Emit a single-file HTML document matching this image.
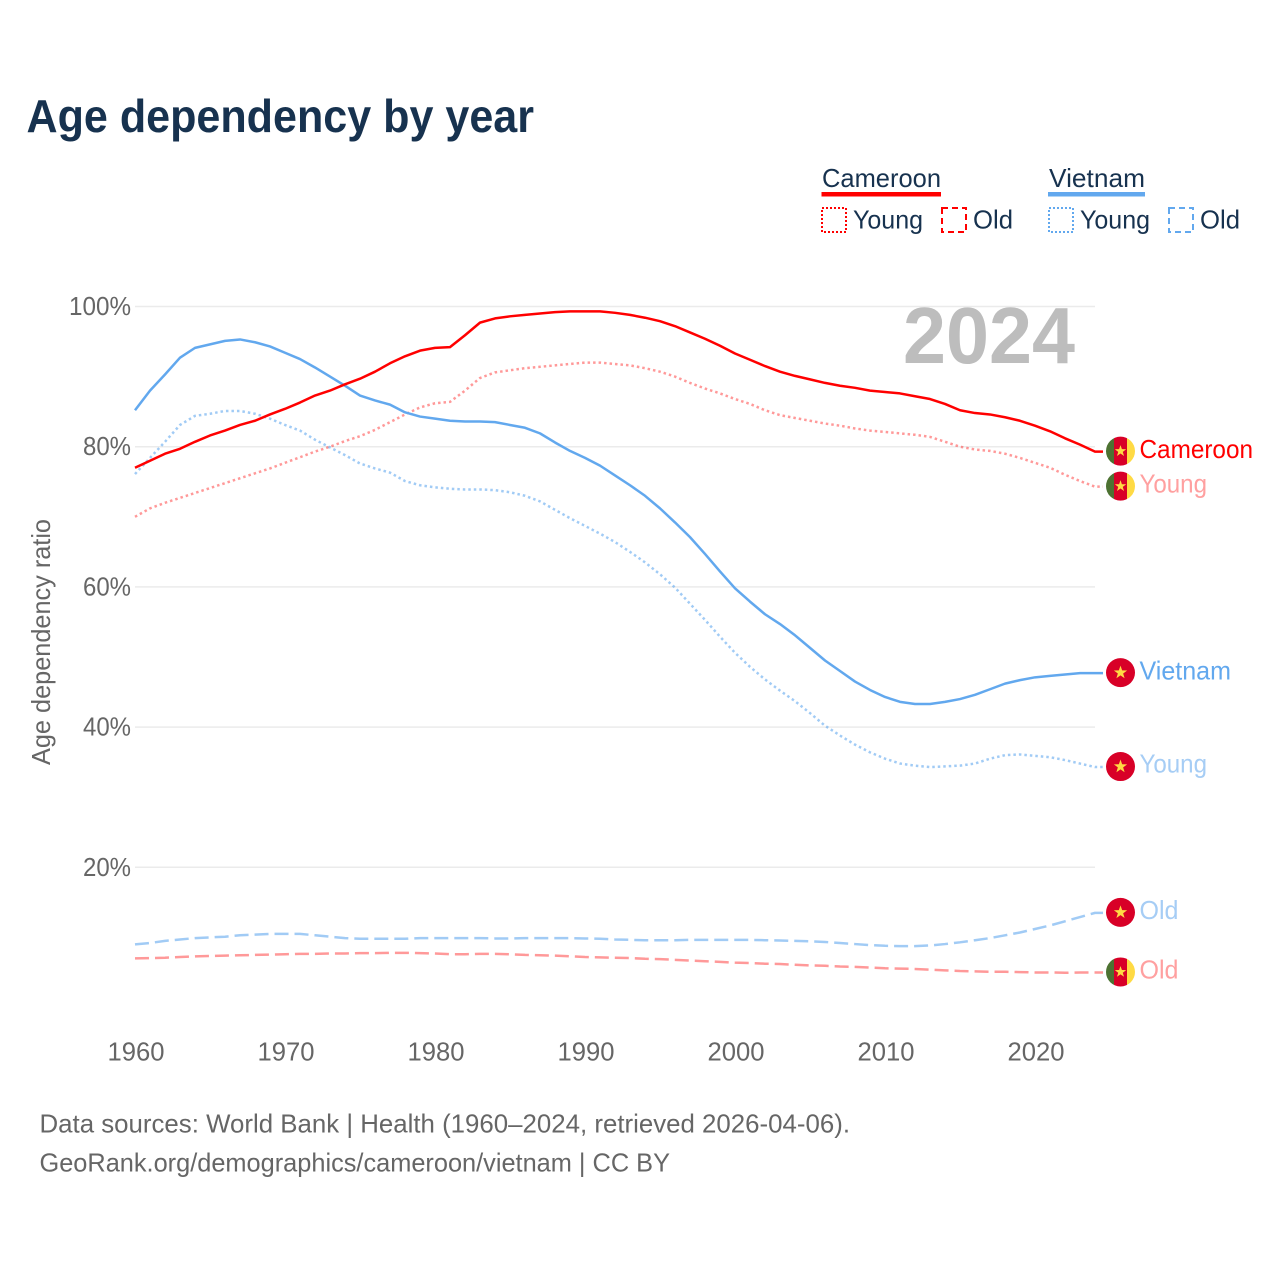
<!DOCTYPE html>
<html lang="en">
<head>
<meta charset="utf-8">
<title>Age dependency by year</title>
<style>
html,body{margin:0;padding:0;background:#fff;}
svg{display:block;font-family:"Liberation Sans",sans-serif;}
</style>
</head>
<body>
<svg id="chart" xmlns="http://www.w3.org/2000/svg" width="1280" height="1280" viewBox="0 0 1280 1280">
  <rect width="1280" height="1280" fill="#fff"/>
  <text x="26.500" y="132" font-size="46" font-weight="700" fill="#17324f" textLength="507.500" lengthAdjust="spacingAndGlyphs">Age dependency by year</text>

  <g font-size="26" fill="#17324f">
    <text x="822" y="187" textLength="119" lengthAdjust="spacingAndGlyphs">Cameroon</text>
    <rect x="821.500" y="192" width="119.500" height="4.500" fill="#ff0000"/>
    <rect x="822" y="208" width="24" height="24" fill="none" stroke="#ff0000" stroke-width="2" stroke-dasharray="2 2"/>
    <text x="853" y="228.500" textLength="70" lengthAdjust="spacingAndGlyphs">Young</text>
    <rect x="942" y="208" width="24" height="24" fill="none" stroke="#ff0000" stroke-width="2" stroke-dasharray="6 4"/>
    <text x="973" y="228.500" textLength="40" lengthAdjust="spacingAndGlyphs">Old</text>
    <text x="1049" y="187" textLength="96" lengthAdjust="spacingAndGlyphs">Vietnam</text>
    <rect x="1048" y="192" width="97" height="4.500" fill="#62a8ee"/>
    <rect x="1049" y="208" width="24" height="24" fill="none" stroke="#62a8ee" stroke-width="2" stroke-dasharray="2 2"/>
    <text x="1080" y="228.500" textLength="70" lengthAdjust="spacingAndGlyphs">Young</text>
    <rect x="1169" y="208" width="24" height="24" fill="none" stroke="#62a8ee" stroke-width="2" stroke-dasharray="6 4"/>
    <text x="1200" y="228.500" textLength="40" lengthAdjust="spacingAndGlyphs">Old</text>
  </g>

  <g id="grid"></g>
  <g id="yticks" font-size="26" fill="#666"></g>
  <g id="xticks" font-size="26" fill="#666"></g>
  <text transform="translate(50 642) rotate(-90)" text-anchor="middle" font-size="26" fill="#666" textLength="246" lengthAdjust="spacingAndGlyphs">Age dependency ratio</text>
  <text x="1075" y="363" text-anchor="end" font-size="80" font-weight="700" fill="#bdbdbd" textLength="172" lengthAdjust="spacingAndGlyphs">2024</text>

  <g id="series"></g>
  <g id="endpoints" font-size="26"></g>

  <g font-size="26" fill="#666">
    <text x="39.500" y="1132.500" textLength="810.500" lengthAdjust="spacingAndGlyphs">Data sources: World Bank | Health (1960–2024, retrieved 2026-04-06).</text>
    <text x="39.500" y="1171.500" textLength="630.500" lengthAdjust="spacingAndGlyphs">GeoRank.org/demographics/cameroon/vietnam | CC BY</text>
  </g>
</svg>
<script>
const startYear = 1960;
const xTickYears = [1960, 1970, 1980, 1990, 2000, 2010, 2020];
const yTickValues = [20, 40, 60, 80, 100];
const yTickLabels = ["20%", "40%", "60%", "80%", "100%"];

const cameroonTotal = [
  77.0,78.0,79.0,79.7,80.7,81.6,82.3,83.1,83.7,84.6,
  85.4,86.3,87.3,88.0,88.9,89.7,90.7,91.9,92.9,93.7,
  94.1,94.2,95.9,97.7,98.3,98.6,98.8,99.0,99.2,99.3,
  99.3,99.3,99.1,98.8,98.4,97.9,97.2,96.3,95.4,94.4,
  93.3,92.4,91.5,90.7,90.1,89.6,89.1,88.7,88.4,88.0,
  87.8,87.6,87.2,86.8,86.1,85.2,84.8,84.6,84.2,83.7,
  83.0,82.2,81.2,80.3,79.3];
const cameroonYoung = [
  70.0,71.2,72.0,72.7,73.4,74.1,74.8,75.5,76.2,76.9,
  77.7,78.5,79.3,80.0,80.8,81.5,82.4,83.5,84.6,85.6,
  86.2,86.4,88.0,89.8,90.6,90.9,91.2,91.4,91.6,91.8,
  92.0,92.0,91.8,91.6,91.2,90.7,90.0,89.1,88.3,87.6,
  86.8,86.1,85.2,84.5,84.1,83.7,83.3,83.0,82.6,82.3,
  82.1,81.9,81.7,81.4,80.7,80.0,79.6,79.4,79.0,78.4,
  77.7,77.0,76.0,75.1,74.3];
const cameroonOld = [
  7.0,7.05,7.1,7.2,7.3,7.35,7.4,7.45,7.5,7.55,
  7.6,7.65,7.65,7.7,7.7,7.75,7.75,7.8,7.8,7.75,
  7.7,7.6,7.6,7.65,7.65,7.6,7.5,7.45,7.4,7.3,
  7.2,7.15,7.1,7.05,6.95,6.9,6.8,6.7,6.6,6.5,
  6.4,6.35,6.25,6.2,6.1,6.0,5.95,5.85,5.8,5.7,
  5.6,5.55,5.5,5.4,5.3,5.2,5.15,5.1,5.1,5.05,
  5.0,5.0,4.95,5.0,5.0];
const vietnamTotal = [
  85.2,88.0,90.3,92.7,94.1,94.6,95.1,95.3,94.9,94.3,
  93.4,92.5,91.3,90.0,88.7,87.3,86.6,86.0,84.9,84.3,
  84.0,83.7,83.6,83.6,83.5,83.1,82.7,81.9,80.6,79.4,
  78.4,77.3,75.9,74.5,73.0,71.2,69.2,67.1,64.7,62.2,
  59.8,57.9,56.1,54.7,53.1,51.3,49.5,48.0,46.5,45.3,
  44.3,43.6,43.3,43.3,43.6,44.0,44.6,45.4,46.2,46.7,
  47.1,47.3,47.5,47.7,47.7];
const vietnamYoung = [
  76.1,78.4,80.7,83.1,84.4,84.7,85.1,85.1,84.7,84.0,
  83.1,82.3,81.0,79.9,78.8,77.6,76.9,76.3,75.1,74.5,
  74.2,74.0,73.9,73.9,73.8,73.5,73.0,72.2,71.0,69.8,
  68.7,67.6,66.4,65.0,63.5,61.8,59.9,57.6,55.3,52.9,
  50.6,48.6,46.8,45.2,43.7,42.0,40.2,38.8,37.5,36.4,
  35.5,34.8,34.5,34.3,34.4,34.5,34.8,35.5,36.0,36.1,
  35.9,35.7,35.3,34.8,34.3];
const vietnamOld = [
  9.0,9.2,9.5,9.7,9.9,10.0,10.1,10.3,10.4,10.5,
  10.5,10.5,10.3,10.1,9.9,9.8,9.8,9.8,9.8,9.9,
  9.9,9.9,9.9,9.9,9.85,9.85,9.9,9.9,9.9,9.9,
  9.85,9.8,9.7,9.65,9.6,9.6,9.6,9.65,9.65,9.65,
  9.65,9.65,9.6,9.55,9.5,9.45,9.35,9.2,9.05,8.9,
  8.8,8.75,8.75,8.85,9.05,9.3,9.6,9.9,10.3,10.7,
  11.2,11.7,12.3,12.9,13.5];

const NS = "http://www.w3.org/2000/svg";
const xOf = function (yearIndex) { return 135 + yearIndex * 15; };
const yOf = function (value) { return 1007.5 - value * 7.01; };
const xOfYear = function (year) { return xOf(year - startYear); };

function svgEl(tag, attrs, parent) {
  const el = document.createElementNS(NS, tag);
  Object.keys(attrs).forEach(function (k) { el.setAttribute(k, attrs[k]); });
  parent.appendChild(el);
  return el;
}

/* gridlines and y ticks */
const gridG = document.getElementById("grid");
const yTickG = document.getElementById("yticks");
yTickValues.forEach(function (v, i) {
  const line = svgEl("line", { x1: 135, x2: 1095, y1: yOf(v), y2: yOf(v), stroke: "#ebebeb", "stroke-width": 1.5 }, gridG);
  
  
  const label = svgEl("text", { x: 131, y: yOf(v) + 8.5, "text-anchor": "end", textLength: yTickLabels[i].length === 4 ? 62 : 48, lengthAdjust: "spacingAndGlyphs" }, yTickG);
  
  
  label.textContent = yTickLabels[i];
});

/* x ticks */
const xTickG = document.getElementById("xticks");
xTickYears.forEach(function (year) {
  const label = svgEl("text", { x: xOfYear(year) + 1, y: 1060.5, "text-anchor": "middle", textLength: 57, lengthAdjust: "spacingAndGlyphs" }, xTickG);
  
  
  label.textContent = String(year);
});

/* series lines */
const seriesG = document.getElementById("series");
function drawLine(values, name, color, opacity, dash) {
  let d = "";
  values.forEach(function (v, i) {
    d += (i === 0 ? "M" : "L") + xOf(i) + " " + yOf(v).toFixed(2);
  });
  d += "L" + (xOf(values.length - 1) + 8) + " " + yOf(values[values.length - 1]).toFixed(2);
  const path = svgEl("path", { d: d, fill: "none", stroke: color, "stroke-opacity": opacity, "stroke-width": 2.5, "stroke-linejoin": "round" }, seriesG);
  if (dash) path.setAttribute("stroke-dasharray", dash);
  
  
}
drawLine(cameroonOld, "line-cameroon-old", "#ff0000", 0.4, "14 6");
drawLine(vietnamOld, "line-vietnam-old", "#62a8ee", 0.6, "14 6");
drawLine(cameroonYoung, "line-cameroon-young", "#ff0000", 0.4, "2.5 3");
drawLine(vietnamYoung, "line-vietnam-young", "#62a8ee", 0.6, "2.5 3");
drawLine(vietnamTotal, "line-vietnam-total", "#62a8ee", 1, null);
drawLine(cameroonTotal, "line-cameroon-total", "#ff0000", 1, null);

/* end-of-line flags and labels */
const endG = document.getElementById("endpoints");
const defs = svgEl("defs", {}, endG);
const clip = svgEl("clipPath", { id: "flag-clip" }, defs);
svgEl("circle", { cx: 0, cy: 0, r: 14.5 }, clip);

function starPoints(r) {
  const pts = [];
  for (let i = 0; i < 10; i++) {
    const rad = i % 2 === 0 ? r : r * 0.4;
    const a = -Math.PI / 2 + i * Math.PI / 5;
    pts.push((rad * Math.cos(a)).toFixed(2) + "," + (rad * Math.sin(a)).toFixed(2));
  }
  return pts.join(" ");
}

function drawFlag(country, cy) {
  const g = svgEl("g", { transform: "translate(1120.5 " + cy.toFixed(2) + ")", "clip-path": "url(#flag-clip)" }, endG);
  
  
  if (country === "cameroon") {
    svgEl("rect", { x: -15, y: -15, width: 8.5, height: 30, fill: "#4d7232" }, g);
    svgEl("rect", { x: -6.500, y: -15, width: 13, height: 30, fill: "#d80027" }, g);
    svgEl("rect", { x: 6.500, y: -15, width: 8.5, height: 30, fill: "#ffda44" }, g);
  } else {
    svgEl("rect", { x: -15, y: -15, width: 30, height: 30, fill: "#d80027" }, g);
  }
  svgEl("polygon", { points: starPoints(country === "cameroon" ? 6 : 7), fill: "#ffda44" }, g);
}

function drawEnd(values, country, text, color, width, offset) {
  const lineY = yOf(values[values.length - 1]);
  drawFlag(country, lineY - 0.5);
  const label = svgEl("text", { x: 1139.5, y: lineY + 6 + offset, fill: color, textLength: width, lengthAdjust: "spacingAndGlyphs" }, endG);
  
  
  label.textContent = text;
}
drawEnd(cameroonTotal, "cameroon", "Cameroon", "#ff0000", 113.5, 0.5);
drawEnd(cameroonYoung, "cameroon", "Young", "#ffa0a0", 67.5, 0);
drawEnd(vietnamTotal, "vietnam", "Vietnam", "#62a8ee", 91.5, 0.5);
drawEnd(vietnamYoung, "vietnam", "Young", "#a6cdf5", 67.5, -0.5);
drawEnd(vietnamOld, "vietnam", "Old", "#a6cdf5", 39, 0);
drawEnd(cameroonOld, "cameroon", "Old", "#ffa0a0", 39, 0);
</script>
</body>
</html>
